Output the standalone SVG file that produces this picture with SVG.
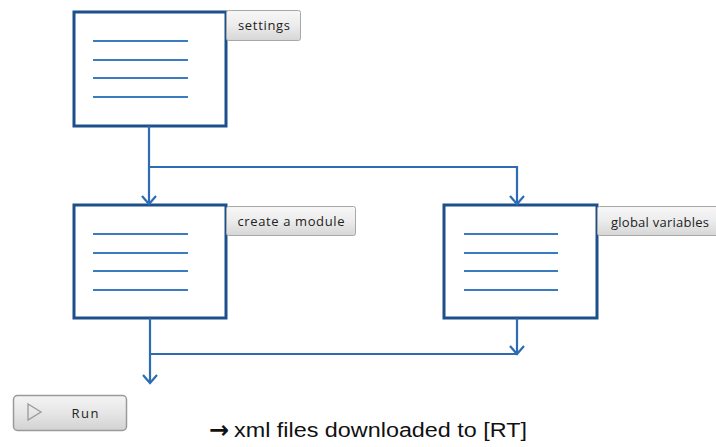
<svg xmlns="http://www.w3.org/2000/svg" width="716" height="447" viewBox="0 0 716 447">
<style>
.box{fill:#fff;stroke:#1d4f8a;stroke-width:3}
.ln{stroke:#3b7bbf;stroke-width:2}
.tab{fill:url(#tg);stroke:#a8a8a8;stroke-width:1}
.tt{font-family:"Open Sans","Noto Sans",sans-serif;font-size:13px;fill:#222}
.con{fill:none;stroke:#2b6cb2;stroke-width:2.2}
.note{font-family:"Liberation Sans",Arial,sans-serif;font-size:20px;fill:#111}
.arr{font-family:"DejaVu Sans",sans-serif;font-size:24px;font-weight:bold;fill:#111}
</style>
<defs>
<linearGradient id="tg" x1="0" y1="0" x2="0" y2="1">
<stop offset="0" stop-color="#f7f7f7"/>
<stop offset="0.5" stop-color="#ececec"/>
<stop offset="1" stop-color="#d6d6d6"/>
</linearGradient>
<linearGradient id="bg" x1="0" y1="0" x2="0" y2="1">
<stop offset="0" stop-color="#f4f4f4"/>
<stop offset="0.5" stop-color="#e6e6e6"/>
<stop offset="1" stop-color="#d2d2d2"/>
</linearGradient>
<marker id="ah" viewBox="0 0 16 16" refX="14" refY="8" markerWidth="16" markerHeight="16" markerUnits="userSpaceOnUse" orient="auto">
<path d="M6,1 L14,8 L6,15" fill="none" stroke="#2b6cb2" stroke-width="2.2"/>
</marker>
</defs>
<g id="settings">
<rect class="box" x="74" y="12" width="152" height="114"/>
<line class="ln" x1="93" y1="41" x2="188" y2="41"/>
<line class="ln" x1="93" y1="60" x2="188" y2="60"/>
<line class="ln" x1="93" y1="78" x2="188" y2="78"/>
<line class="ln" x1="93" y1="97" x2="188" y2="97"/>
<rect class="tab" x="226.5" y="10.5" width="74" height="30" rx="2"/>
<text class="tt" x="264" y="30" text-anchor="middle" textLength="52">settings</text>
</g>
<g id="create-module">
<rect class="box" x="74" y="205" width="152" height="113"/>
<line class="ln" x1="93" y1="234" x2="188" y2="234"/>
<line class="ln" x1="93" y1="253" x2="188" y2="253"/>
<line class="ln" x1="93" y1="271" x2="188" y2="271"/>
<line class="ln" x1="93" y1="290" x2="188" y2="290"/>
<rect class="tab" x="226.5" y="206.5" width="129" height="29" rx="2"/>
<text class="tt" x="291" y="226" text-anchor="middle" textLength="107">create a module</text>
</g>
<g id="global-variables">
<rect class="box" x="444" y="205" width="153" height="113"/>
<line class="ln" x1="464" y1="234" x2="558" y2="234"/>
<line class="ln" x1="464" y1="253" x2="558" y2="253"/>
<line class="ln" x1="464" y1="271" x2="558" y2="271"/>
<line class="ln" x1="464" y1="290" x2="558" y2="290"/>
<rect class="tab" x="597.5" y="206.5" width="125" height="29" rx="2"/>
<text class="tt" x="611" y="227" textLength="98">global variables</text>
</g>
<g id="connectors">
<path class="con" d="M149,126 V204" marker-end="url(#ah)"/>
<path class="con" d="M149,167 H517 V204" marker-end="url(#ah)"/>
<path class="con" d="M150,318 V383" marker-end="url(#ah)"/>
<path class="con" d="M150,354 H517"/>
<path class="con" d="M517,318 V354" marker-end="url(#ah)"/>
</g>
<g id="run">
<rect x="13.5" y="395.5" width="113" height="35" rx="4" fill="url(#bg)" stroke="#9a9a9a" stroke-width="1.5"/>
<path d="M28,404 L41,412 L28,420 Z" fill="none" stroke="#9a9a9a" stroke-width="1.3"/>
<text class="tt" x="85" y="418" text-anchor="middle" textLength="27">Run</text>
</g>
<g id="note">
<text class="arr" x="209" y="438">→</text>
<text class="note" x="234" y="437" textLength="293" lengthAdjust="spacingAndGlyphs">xml files downloaded to [RT]</text>
</g>
</svg>
